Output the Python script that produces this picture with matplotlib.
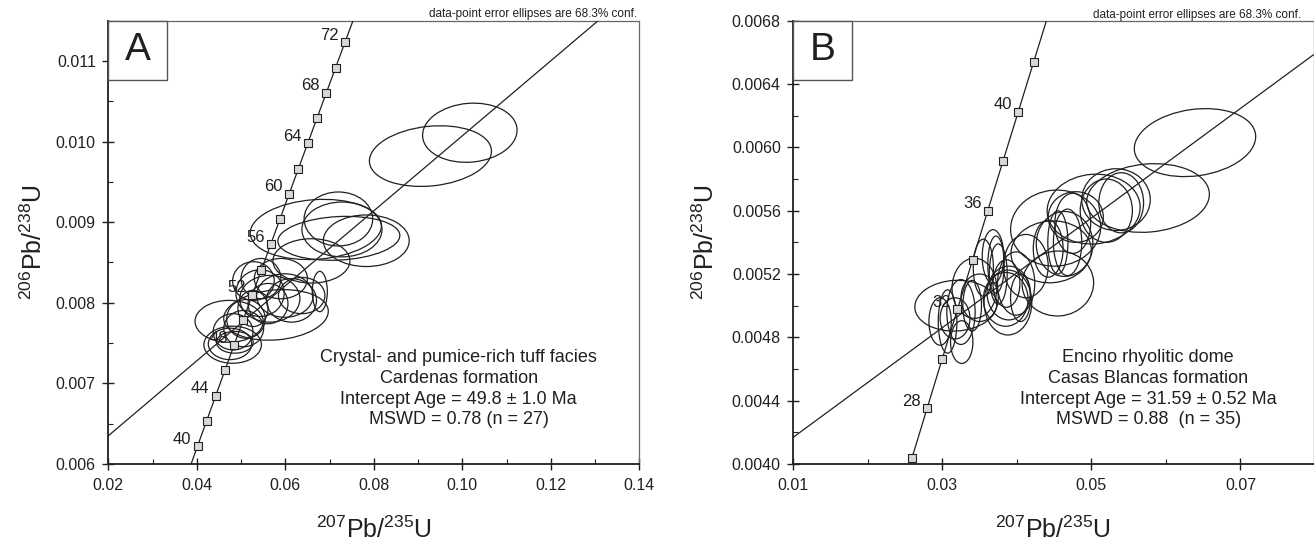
import numpy as np
import matplotlib
matplotlib.use('Agg')
import matplotlib.pyplot as plt
from matplotlib.patches import Ellipse, Rectangle
from matplotlib.transforms import Affine2D

plt.rcParams['font.family'] = ['Liberation Sans', 'DejaVu Sans']
plt.rcParams['mathtext.fontset'] = 'custom'
plt.rcParams['mathtext.rm'] = 'Liberation Sans'
plt.rcParams['mathtext.it'] = 'Liberation Sans:italic'
plt.rcParams['mathtext.bf'] = 'Liberation Sans:bold'

INK = '#231f20'

# ---- panel A : Cardenas formation ----
concA_ages = [38, 40, 42, 44, 46, 48, 50, 52, 54, 56, 58, 60, 62, 64, 66, 68, 70, 72, 74]
concA_x = [0.03813, 0.04018, 0.04223, 0.04429, 0.04635, 0.04841, 0.05048, 0.05255, 0.05462, 0.05670,
           0.05878, 0.06087, 0.06296, 0.06506, 0.06716, 0.06926, 0.07137, 0.07348, 0.07560]
concA_y = [0.005912, 0.006224, 0.006537, 0.006849, 0.007161, 0.007474, 0.007787, 0.008099, 0.008412, 0.008725,
           0.009038, 0.009351, 0.009664, 0.009977, 0.010291, 0.010604, 0.010918, 0.011232, 0.011545]
concA_labels = [40, 44, 48, 52, 56, 60, 64, 68, 72]
discA_x = [0.02, 0.1307]
discA_y = [0.00635, 0.0115]
# centre x, centre y, full width, full height, tilt
ellA_x = [0.1017, 0.0928, 0.0669, 0.0720, 0.0728, 0.0659, 0.0783, 0.0721, 0.0473, 0.0481,
          0.0475, 0.0506, 0.0511, 0.0579, 0.0543, 0.0528, 0.0565, 0.0599, 0.0614, 0.0678,
          0.0637, 0.0482, 0.0527, 0.0561, 0.0486, 0.0545, 0.0590]
ellA_y = [0.01011, 0.00982, 0.00891, 0.00904, 0.00891, 0.00852, 0.00877, 0.00880, 0.00777, 0.00748,
          0.00749, 0.00768, 0.00780, 0.00785, 0.00812, 0.00827, 0.00805, 0.00809, 0.00803, 0.00814,
          0.00809, 0.00764, 0.00793, 0.00799, 0.00751, 0.00830, 0.00830]
ellA_w = [0.0214, 0.0277, 0.0297, 0.0155, 0.0181, 0.0174, 0.0194, 0.0276, 0.0154, 0.0130,
          0.0098, 0.0090, 0.0087, 0.0237, 0.0109, 0.0094, 0.0136, 0.0128, 0.0113, 0.0034,
          0.0105, 0.0090, 0.0068, 0.0090, 0.0083, 0.0090, 0.0120]
ellA_h = [0.00073, 0.00074, 0.00074, 0.00067, 0.00068, 0.00055, 0.00064, 0.00054, 0.00052, 0.00046,
          0.00039, 0.00045, 0.00048, 0.00062, 0.00058, 0.00048, 0.00058, 0.00054, 0.00054, 0.00050,
          0.00045, 0.00045, 0.00045, 0.00050, 0.00027, 0.00050, 0.00050]
ellA_tilt = [5, 6, 4, 0, 0, 0, 0, 3, 0, 0, 0, 0, 0, 5, 0, 0, 0, 0, 0, 0, 0, 0, 0, 0, 0, 0, 0]
textA = ['Crystal- and pumice-rich tuff facies', 'Cardenas formation',
         'Intercept Age = 49.8 \u00b1 1.0 Ma', 'MSWD = 0.78 (n = 27)']

# ---- panel B : Casas Blancas formation ----
concB_ages = [24, 26, 28, 30, 32, 34, 36, 38, 40, 42, 44]
concB_x = [0.02392, 0.02594, 0.02796, 0.02999, 0.03202, 0.03405, 0.03609, 0.03813, 0.04018, 0.04223, 0.04429]
concB_y = [0.003730, 0.004041, 0.004353, 0.004665, 0.004976, 0.005288, 0.005600, 0.005912, 0.006224,
           0.006537, 0.006849]
concB_labels = [28, 32, 36, 40]
discB_x = [0.01, 0.0798]
discB_y = [0.004169, 0.006585]
ellB_x = [0.0639, 0.0576, 0.0533, 0.0503, 0.0452, 0.0479, 0.0468, 0.0442, 0.0446, 0.0455,
          0.0388, 0.0318, 0.0307, 0.0325, 0.0317, 0.0340, 0.0343, 0.0355, 0.0368, 0.0389,
          0.0385, 0.0405, 0.0386, 0.0455, 0.0464, 0.0372, 0.0326, 0.0297, 0.0350, 0.0475,
          0.0520, 0.0540, 0.0399, 0.0412, 0.0375]
ellB_y = [0.00603, 0.00568, 0.00567, 0.00561, 0.00549, 0.00556, 0.00540, 0.00536, 0.00534, 0.00514,
          0.00502, 0.00500, 0.00490, 0.00496, 0.00492, 0.00500, 0.00511, 0.00524, 0.00531, 0.00508,
          0.00504, 0.00505, 0.00514, 0.00540, 0.00539, 0.00526, 0.00477, 0.00490, 0.00505, 0.00552,
          0.00560, 0.00565, 0.00514, 0.00525, 0.00520]
ellB_w = [0.0164, 0.0165, 0.0092, 0.0125, 0.0121, 0.0074, 0.0038, 0.0040, 0.0108, 0.0096,
          0.0064, 0.0110, 0.0025, 0.0038, 0.0040, 0.0025, 0.0060, 0.0027, 0.0029, 0.0058,
          0.0060, 0.0027, 0.0036, 0.0027, 0.0076, 0.0022, 0.0030, 0.0030, 0.0050, 0.0048,
          0.0070, 0.0060, 0.0050, 0.0060, 0.0024]
ellB_h = [0.00042, 0.00043, 0.00039, 0.00044, 0.00048, 0.00032, 0.00042, 0.00036, 0.00039, 0.00041,
          0.00041, 0.00032, 0.00040, 0.00041, 0.00026, 0.00032, 0.00038, 0.00036, 0.00034, 0.00034,
          0.00034, 0.00030, 0.00030, 0.00040, 0.00041, 0.00036, 0.00027, 0.00030, 0.00030, 0.00038,
          0.00040, 0.00038, 0.00040, 0.00040, 0.00038]
ellB_tilt = [8, 5, 0, 5, 5, 0, 0, 0, 5, 5, 0, 3, 0, 0, 0, 0, 0, 0, 0, 0,
             0, 0, 0, 0, 0, 0, 0, 0, 0, 0, 0, 0, 0, 0, 0]
textB = ['Encino rhyolitic dome', 'Casas Blancas formation',
         'Intercept Age = 31.59 \u00b1 0.52 Ma', 'MSWD = 0.88  (n = 35)']


def draw_panel(ax, letter, xlim, ylim, xmaj, xmin, ymaj, ymin, xfmt, yfmt,
               cx, cy, cages, clabels, dx, dy, ex, ey, ew, eh, et, unit,
               lines, text_x, ylab_x, note_x, note_y, box_w):
    ax.set_xlim(*xlim)
    ax.set_ylim(*ylim)

    # error ellipses, drawn in a rescaled frame so the tilt reads as on screen
    ux, uy = unit
    tr = Affine2D().scale(ux, uy) + ax.transData
    for x, y, w, h, t in zip(ex, ey, ew, eh, et):
        ax.add_patch(Ellipse((x / ux, y / uy), w / ux, h / uy, angle=t, transform=tr,
                             fill=False, ec=INK, lw=0.9, zorder=2))

    ax.plot(dx, dy, color=INK, lw=0.9, zorder=3)
    ax.plot(cx, cy, color=INK, lw=0.9, zorder=3)
    ax.plot(cx[1:-1], cy[1:-1], 's', ms=5.3, mfc='#d8d8d8', mec=INK, mew=0.8,
            zorder=4, clip_on=False)
    for a, x, y in zip(cages, cx, cy):
        if a in clabels:
            ax.annotate(str(a), (x, y), xytext=(-4.5, 5), textcoords='offset points',
                        ha='right', va='center', fontsize=12, color=INK, zorder=4)

    ax.set_xticks(xmaj)
    ax.set_xticks(xmin, minor=True)
    ax.set_yticks(ymaj)
    ax.set_yticks(ymin, minor=True)
    ax.set_xticklabels([xfmt % v for v in xmaj])
    ax.set_yticklabels([yfmt % v for v in ymaj])
    ax.tick_params(which='major', direction='inout', length=8, width=1.0, color=INK,
                   labelsize=11.5, labelcolor=INK)
    ax.tick_params(which='minor', direction='in', length=3.5, width=0.8, color=INK)
    ax.tick_params(axis='x', which='major', pad=6)
    ax.tick_params(axis='y', which='major', pad=5)

    for s in ['left', 'bottom']:
        ax.spines[s].set_color(INK)
        ax.spines[s].set_linewidth(1.3)
    for s in ['top', 'right']:
        ax.spines[s].set_color('#666666')
        ax.spines[s].set_linewidth(0.9)

    ax.set_xlabel('$^{207}$Pb/$^{235}$U', fontsize=18, color=INK)
    ax.xaxis.set_label_coords(0.5, -0.168)
    ax.xaxis.label.set_va('baseline')
    ax.set_ylabel('$^{206}$Pb/$^{238}$U', fontsize=18, color=INK)
    ax.yaxis.set_label_coords(ylab_x, 0.5)
    ax.yaxis.label.set_va('baseline')

    ax.add_patch(Rectangle((0, 1 - 0.1338), box_w, 0.1338, transform=ax.transAxes,
                           fc='white', ec='#555555', lw=1.0, zorder=5, clip_on=False))
    ax.text(box_w / 2, 1 - 0.1338 / 2, letter, transform=ax.transAxes, ha='center',
            va='center', fontsize=28, color=INK, zorder=6)

    ax.text(text_x, 0.17, '\n'.join(lines), transform=ax.transAxes, ha='center',
            va='center', fontsize=13, color=INK, linespacing=1.3)
    ax.text(note_x, note_y, 'data-point error ellipses are 68.3% conf.',
            transform=ax.transAxes, ha='right', va='baseline', fontsize=8.5, color=INK)


fig = plt.figure(figsize=(13.14, 5.41), dpi=100)
axA = fig.add_axes([108.3 / 1314, 1 - 464 / 541, (639.3 - 108.3) / 1314, (464 - 20.7) / 541])
axB = fig.add_axes([793.3 / 1314, 1 - 464 / 541, (1313.5 - 793.3) / 1314, (464 - 20.7) / 541])

draw_panel(axA, 'A', (0.02, 0.14), (0.006, 0.0115),
           np.arange(0.02, 0.141, 0.02), np.arange(0.03, 0.131, 0.02),
           np.arange(0.006, 0.01101, 0.001), np.arange(0.0065, 0.01151, 0.001),
           '%.2f', '%.3f',
           concA_x, concA_y, concA_ages, concA_labels, discA_x, discA_y,
           ellA_x, ellA_y, ellA_w, ellA_h, ellA_tilt, (0.01, 0.000548),
           textA, 0.660, -0.125, 0.9957, 1.0083, 0.111)

draw_panel(axB, 'B', (0.01, 0.0798), (0.004, 0.0068),
           [0.01, 0.03, 0.05, 0.07], [0.02, 0.04, 0.06],
           np.arange(0.004, 0.00681, 0.0004), np.arange(0.0042, 0.00661, 0.0004),
           '%.2f', '%.4f',
           concB_x, concB_y, concB_ages, concB_labels, discB_x, discB_y,
           ellB_x, ellB_y, ellB_w, ellB_h, ellB_tilt, (0.01, 0.000471),
           textB, 0.682, -0.1525, 0.9758, 1.0054, 0.1135)

fig.savefig('out.png', dpi=100)
